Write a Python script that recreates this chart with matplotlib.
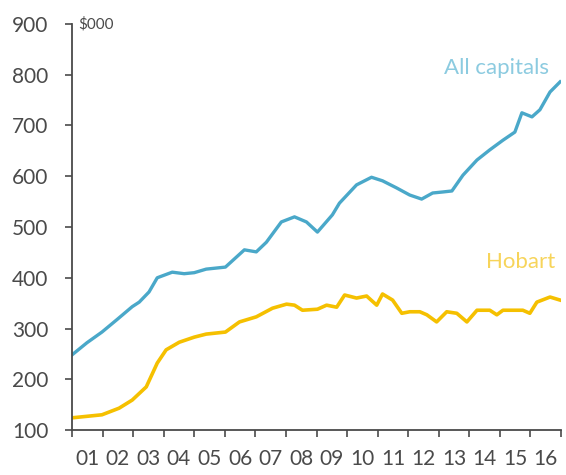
import matplotlib
matplotlib.use("Agg")
import matplotlib.pyplot as plt
import numpy as np

# All capitals, median dwelling price ($000)
cap_year = [2001.00, 2001.49, 2001.98, 2002.48, 2002.97, 2003.20, 2003.52, 2003.79,
            2004.28, 2004.67, 2005.00, 2005.39, 2006.02, 2006.64, 2007.03, 2007.36,
            2007.85, 2008.28, 2008.67, 2009.03, 2009.52, 2009.75, 2010.31, 2010.80,
            2011.16, 2011.62, 2012.05, 2012.44, 2012.80, 2013.13, 2013.43, 2013.79,
            2014.25, 2014.67, 2015.10, 2015.49, 2015.72, 2016.05, 2016.31, 2016.64,
            2016.97]
cap_val = [248, 272, 293, 318, 343, 352, 372, 400,
           411, 408, 410, 417, 421, 455, 451, 470,
           510, 520, 510, 490, 524, 547, 583, 598,
           591, 577, 563, 555, 567, 569, 571, 602,
           632, 652, 671, 687, 725, 717, 731, 766,
           786]

# Hobart
hob_year = [2001.00, 2001.98, 2002.54, 2002.97, 2003.43, 2003.79, 2004.08, 2004.51,
            2005.00, 2005.39, 2006.02, 2006.48, 2007.03, 2007.56, 2008.02, 2008.28,
            2008.54, 2009.03, 2009.33, 2009.66, 2009.92, 2010.31, 2010.64, 2010.97,
            2011.16, 2011.49, 2011.79, 2012.05, 2012.38, 2012.61, 2012.93, 2013.26,
            2013.59, 2013.92, 2014.25, 2014.67, 2014.90, 2015.10, 2015.75, 2015.98,
            2016.21, 2016.64, 2016.97]
hob_val = [124, 130, 143, 159, 185, 232, 258, 273,
           283, 289, 293, 313, 323, 340, 348, 346,
           336, 338, 346, 342, 366, 360, 364, 346,
           368, 356, 330, 333, 333, 327, 313, 333,
           330, 313, 336, 336, 327, 336, 336, 330,
           352, 362, 356]

year_labels = ["01", "02", "03", "04", "05", "06", "07", "08",
               "09", "10", "11", "12", "13", "14", "15", "16"]

blue = "#4aa8c9"
gold = "#f5c000"
grey = "#4a4a4a"

plt.rcParams['font.family'] = ['Lato', 'DejaVu Sans']

fig = plt.figure(figsize=(5.66, 4.75), dpi=100)
ax = fig.add_axes([0.1272, 0.0947, 0.8640, 0.8548])

ax.plot(cap_year, cap_val, color=blue, lw=2.4, solid_joinstyle='round')
ax.plot(hob_year, hob_val, color=gold, lw=2.6, solid_joinstyle='round')

ax.set_xlim(2001, 2017)
ax.set_ylim(100, 900)

ax.set_yticks(np.arange(100, 901, 100))
ax.set_xticks(np.arange(2001, 2018, 1))
ax.set_xticklabels([])
ax.set_xticks(np.arange(2001.5, 2017, 1), minor=True)
ax.set_xticklabels(year_labels, minor=True)
ax.tick_params(axis='x', which='minor', length=0, pad=14, labelsize=15, labelcolor=grey)
ax.tick_params(axis='x', which='major', direction='out', length=5, width=1.2, color=grey)
ax.tick_params(axis='y', direction='out', length=5, width=1.2, color=grey,
               labelsize=15, labelcolor=grey, pad=12)

for s in ['top', 'right']:
    ax.spines[s].set_visible(False)
for s in ['left', 'bottom']:
    ax.spines[s].set_color(grey)
    ax.spines[s].set_linewidth(1.3)

ax.text(2001.2, 900, "$000", fontsize=11, color=grey, va='center', ha='left')
ax.text(2016.6, 813, "All capitals", fontsize=16, color="#8ccbe0", ha='right', va='center')
ax.text(2016.8, 431, "Hobart", fontsize=16, color="#f7d45a", ha='right', va='center')

fig.savefig("out.png", dpi=100)
